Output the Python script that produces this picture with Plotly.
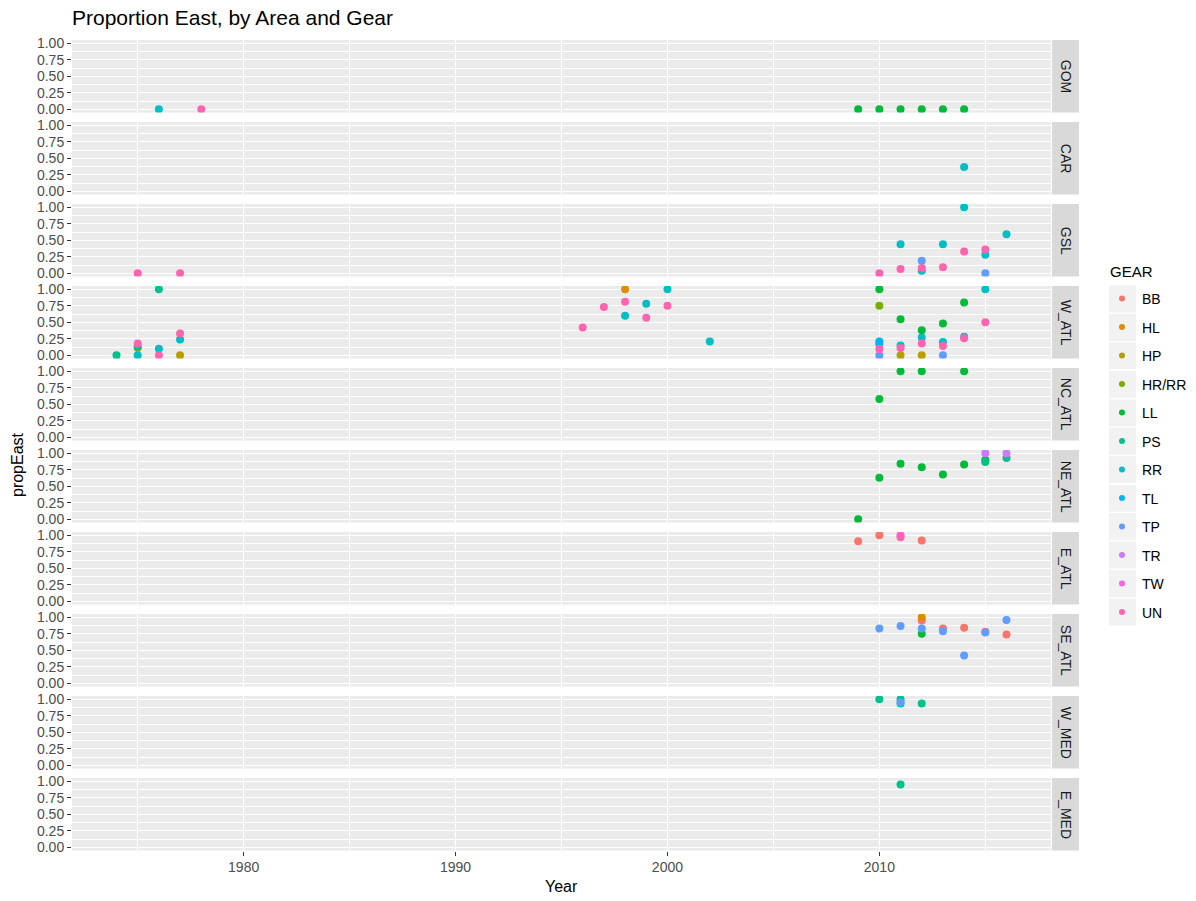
import plotly.graph_objects as go
from plotly.subplots import make_subplots

# ---------------- data ----------------
AREAS = ["GOM", "CAR", "GSL", "W_ATL", "NC_ATL", "NE_ATL", "E_ATL", "SE_ATL", "W_MED", "E_MED"]
GEARS = ["BB", "HL", "HP", "HR/RR", "LL", "PS", "RR", "TL", "TP", "TR", "TW", "UN"]
GEAR_COLORS = ["#F8766D", "#DE8C00", "#B79F00", "#7CAE00", "#00BA38", "#00C08B",
               "#00BFC4", "#00B4F0", "#619CFF", "#C77CFF", "#F564E3", "#FF64B0"]

gom_year = [1976, 1978, 2009, 2010, 2011, 2012, 2013, 2014]
gom_prop = [0, 0, 0, 0, 0, 0, 0, 0]
gom_gear = ["RR", "UN", "LL", "LL", "LL", "LL", "LL", "LL"]

car_year = [2014]
car_prop = [0.37]
car_gear = ["RR"]

gsl_year = [1975, 1977, 2010, 2011, 2011, 2012, 2012, 2012, 2013, 2013, 2014, 2014, 2015, 2015, 2015, 2016]
gsl_prop = [0, 0, 0, 0.44, 0.065, 0.19, 0.08, 0.04, 0.44, 0.09, 1.0, 0.33, 0.36, 0.28, 0, 0.59]
gsl_gear = ["UN", "UN", "UN", "RR", "UN", "TP", "UN", "RR", "RR", "UN", "RR", "UN", "UN", "RR", "TP", "RR"]

watl_year = [1974, 1975, 1975, 1975, 1975, 1976, 1976, 1976, 1977, 1977, 1977,
             1996, 1997, 1998, 1998, 1998, 1999, 1999, 2000, 2000, 2002,
             2010, 2010, 2010, 2010, 2010, 2010,
             2011, 2011, 2011, 2011,
             2012, 2012, 2012, 2012,
             2013, 2013, 2013, 2013,
             2014, 2014, 2014,
             2015, 2015]
watl_prop = [0, 0.18, 0.13, 0.11, 0, 1.0, 0.1, 0, 0.33, 0.24, 0,
             0.42, 0.73, 1.0, 0.81, 0.6, 0.78, 0.57, 1.0, 0.75, 0.21,
             1.0, 0.75, 0.21, 0.17, 0.095, 0,
             0.545, 0.15, 0.11, 0,
             0.38, 0.27, 0.18, 0,
             0.48, 0.2, 0.14, 0,
             0.8, 0.28, 0.26,
             1.0, 0.5]
watl_gear = ["PS", "UN", "PS", "HP", "RR", "PS", "RR", "UN", "UN", "RR", "HP",
             "UN", "UN", "HL", "UN", "RR", "RR", "UN", "RR", "UN", "RR",
             "LL", "HR/RR", "TL", "TL", "UN", "TP",
             "LL", "RR", "UN", "HP",
             "LL", "RR", "UN", "HP",
             "LL", "RR", "UN", "TP",
             "LL", "RR", "UN",
             "RR", "UN"]

ncatl_year = [2010, 2011, 2012, 2014]
ncatl_prop = [0.58, 1.0, 1.0, 1.0]
ncatl_gear = ["LL", "LL", "LL", "LL"]

neatl_year = [2009, 2010, 2011, 2012, 2013, 2014, 2015, 2015, 2015, 2016, 2016]
neatl_prop = [0, 0.63, 0.84, 0.79, 0.68, 0.83, 1.0, 0.9, 0.87, 1.0, 0.93]
neatl_gear = ["LL", "LL", "LL", "LL", "LL", "LL", "TR", "LL", "PS", "TR", "PS"]

eatl_year = [2009, 2010, 2011, 2011, 2012]
eatl_prop = [0.91, 1.0, 0.97, 1.0, 0.92]
eatl_gear = ["BB", "BB", "UN", "TW", "BB"]

seatl_year = [2010, 2011, 2012, 2012, 2012, 2012, 2013, 2013, 2014, 2014, 2015, 2015, 2016, 2016]
seatl_prop = [0.83, 0.87, 1.0, 0.95, 0.83, 0.75, 0.83, 0.79, 0.84, 0.42, 0.78, 0.77, 0.96, 0.74]
seatl_gear = ["TP", "TP", "HL", "BB", "TP", "LL", "BB", "TP", "BB", "TP", "BB", "TP", "TP", "BB"]

wmed_year = [2010, 2011, 2011, 2011, 2012]
wmed_prop = [1.0, 1.0, 0.955, 0.935, 0.935]
wmed_gear = ["PS", "PS", "TP", "PS", "PS"]

emed_year = [2011]
emed_prop = [0.95]
emed_gear = ["PS"]

Y_TICKS = [0, 0.25, 0.5, 0.75, 1.0]
Y_TICK_LABELS = ["0.00", "0.25", "0.50", "0.75", "1.00"]
X_TICKS = [1980, 1990, 2000, 2010]
X_TICK_LABELS = ["1980", "1990", "2000", "2010"]

AREA_DATA = [
    (gom_year, gom_prop, gom_gear),
    (car_year, car_prop, car_gear),
    (gsl_year, gsl_prop, gsl_gear),
    (watl_year, watl_prop, watl_gear),
    (ncatl_year, ncatl_prop, ncatl_gear),
    (neatl_year, neatl_prop, neatl_gear),
    (eatl_year, eatl_prop, eatl_gear),
    (seatl_year, seatl_prop, seatl_gear),
    (wmed_year, wmed_prop, wmed_gear),
    (emed_year, emed_prop, emed_gear),
]

# ---------------- layout geometry ----------------
W, H = 1196, 901
ML, MR, MT, MB = 72, 117, 40, 50
PW, PH = W - ML - MR, H - MT - MB          # 1007 x 811
PANEL_R = 1051                             # right edge of panels (px)
STRIP_L, STRIP_R = 1052, 1079
PANEL_H, PITCH = 72.6, 82.0

def px_x(px):
    return (px - ML) / PW

def px_y(py):
    return (H - MB - py) / PH

FONT = "Liberation Sans, Arial, sans-serif"

fig = make_subplots(rows=len(AREAS), cols=1, shared_xaxes=True, vertical_spacing=0.01)

# legend entries (one per gear, in gear order)
for g, c in zip(GEARS, GEAR_COLORS):
    fig.add_trace(go.Scatter(x=[None], y=[None], mode="markers", name=g, legendgroup=g,
                             marker=dict(color=c, size=6), showlegend=True), row=1, col=1)

color_of = dict(zip(GEARS, GEAR_COLORS))
for i, (yrs, props, gears) in enumerate(AREA_DATA):
    for g in GEARS:
        xs = [yy for yy, gg in zip(yrs, gears) if gg == g]
        ys = [pp for pp, gg in zip(props, gears) if gg == g]
        if not xs:
            continue
        fig.add_trace(go.Scatter(x=xs, y=ys, mode="markers", name=g, legendgroup=g,
                                 showlegend=False,
                                 marker=dict(color=color_of[g], size=8, line=dict(width=0))),
                      row=i + 1, col=1)

shapes = []
annotations = []
x_dom = [0, px_x(PANEL_R)]
for i, area in enumerate(AREAS):
    top_px = MT + i * PITCH
    bot_px = top_px + PANEL_H
    d0, d1 = px_y(bot_px), px_y(top_px)
    ax = "" if i == 0 else str(i + 1)
    fig.layout["yaxis" + ax].update(
        domain=[d0, d1], range=[-0.05, 1.05], tickvals=Y_TICKS, ticktext=Y_TICK_LABELS,
        showgrid=True, gridcolor="white", gridwidth=1.2, zeroline=False,
        ticks="outside", ticklen=4, tickwidth=1, tickcolor="#333333",
        tickfont=dict(family=FONT, size=14, color="#4D4D4D"),
        minor=dict(tickvals=[0.125, 0.375, 0.625, 0.875], showgrid=True,
                   gridcolor="white", gridwidth=0.6, ticks=""),
        showline=False, automargin=False,
    )
    fig.layout["xaxis" + ax].update(
        domain=x_dom, range=[1971.9, 2018.1], tickvals=X_TICKS, ticktext=X_TICK_LABELS,
        showgrid=True, gridcolor="white", gridwidth=1.2, zeroline=False,
        ticks="outside" if i == len(AREAS) - 1 else "", ticklen=4, tickwidth=1,
        tickcolor="#333333",
        showticklabels=(i == len(AREAS) - 1),
        tickfont=dict(family=FONT, size=14, color="#4D4D4D"),
        minor=dict(tickvals=[1975, 1985, 1995, 2005, 2015], showgrid=True,
                   gridcolor="white", gridwidth=0.6, ticks=""),
        showline=False, automargin=False,
    )
    shapes.append(dict(type="rect", xref="paper", yref="paper",
                       x0=px_x(STRIP_L), x1=px_x(STRIP_R), y0=d0, y1=d1,
                       fillcolor="#D9D9D9", line=dict(width=0), layer="below"))
    annotations.append(dict(text=area, xref="paper", yref="paper",
                            x=px_x((STRIP_L + STRIP_R) / 2), y=(d0 + d1) / 2,
                            xanchor="center", yanchor="middle",
                            textangle=90, showarrow=False,
                            font=dict(family=FONT, size=14, color="#1A1A1A")))

# legend key backgrounds
KEY_Y0, KEY_STEP = 299, 28.45
for k in range(len(GEARS)):
    cy = KEY_Y0 + k * KEY_STEP
    shapes.append(dict(type="rect", xref="paper", yref="paper",
                       x0=px_x(1109), x1=px_x(1136), y0=px_y(cy + 13.5), y1=px_y(cy - 13.5),
                       fillcolor="#F2F2F2", line=dict(width=0), layer="below"))

annotations.append(dict(text="GEAR", xref="paper", yref="paper",
                        x=px_x(1108), y=px_y(271), showarrow=False,
                        xanchor="left", yanchor="middle",
                        font=dict(family=FONT, size=15, color="black")))
annotations.append(dict(text="Year", xref="paper", yref="paper",
                        x=px_x((ML + PANEL_R) / 2), y=px_y(887), showarrow=False,
                        xanchor="center", yanchor="middle",
                        font=dict(family=FONT, size=16, color="black")))
annotations.append(dict(text="propEast", xref="paper", yref="paper",
                        x=px_x(18), y=px_y(465), textangle=-90, showarrow=False,
                        xanchor="center", yanchor="middle",
                        font=dict(family=FONT, size=16, color="black")))

fig.update_layout(
    width=W, height=H,
    margin=dict(l=ML, r=MR, t=MT, b=MB, autoexpand=False),
    paper_bgcolor="white", plot_bgcolor="#EBEBEB",
    title=dict(text="Proportion East, by Area and Gear", xref="paper", x=0, xanchor="left",
               yref="container", y=1 - 18 / H, yanchor="middle",
               font=dict(family=FONT, size=21, color="black")),
    shapes=shapes, annotations=annotations,
    showlegend=True,
    legend=dict(x=px_x(1102), y=px_y(283), xanchor="left", yanchor="top",
                font=dict(family=FONT, size=14, color="black"),
                tracegroupgap=7.3, bgcolor="rgba(0,0,0,0)"),
    font=dict(family=FONT),
)

fig.write_html("out.html", config={"displayModeBar": False},
               post_script="document.body.style.margin='0px';")
